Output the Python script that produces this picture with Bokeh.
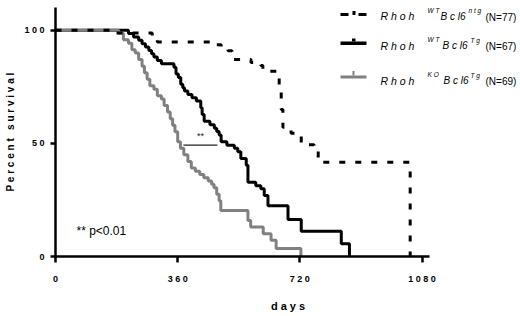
from bokeh.plotting import figure
from bokeh.models import Range1d, FixedTicker, Label, BoxAnnotation
from bokeh.embed import file_html
from bokeh.resources import INLINE

# ---- data ----
ntg_days = [0, 171, 285, 300, 468, 488, 508, 520, 576, 605, 611, 655, 659, 665, 670, 694, 724, 762, 774, 1045]
ntg_surv = [100, 98.7, 96.1, 94.8, 93.5, 92.2, 90.9, 87.0, 85.7, 84.4, 81.8, 80.5, 72.7, 64.9, 57.1, 54.5, 49.4, 48.1, 41.6, 0]

wt_days = [0, 215, 230, 245, 255, 265, 275, 283, 290, 300, 312, 349, 355, 362, 369, 375, 380, 390, 402, 415,
           428, 432, 438, 455, 468, 475, 482, 488, 505, 527, 537, 546, 562, 567, 590, 605, 615, 626, 685, 724,
           842, 866]
wt_surv = [100, 98.5, 97.0, 95.5, 94.0, 92.5, 91.0, 89.6, 88.1, 86.6, 85.1, 83.6, 80.6, 79.1, 76.1, 74.6, 73.1, 71.6, 70.1, 68.7,
           65.7, 62.7, 59.7, 58.2, 56.7, 55.2, 53.7, 50.7, 49.2, 47.8, 46.3, 43.3, 40.3, 32.8, 31.3, 29.9, 26.9, 22.4, 16.4, 11.2,
           5.6, 0]

ko_days = [0, 186, 200, 215, 225, 235, 245, 255, 262, 270, 278, 290, 300, 312, 320, 330, 338, 345, 352, 360,
           368, 378, 390, 400, 412, 425, 437, 450, 460, 467, 475, 482, 487, 567, 575, 612, 635, 650, 723]
ko_surv = [100, 98.6, 95.7, 94.2, 91.3, 89.9, 87.0, 84.1, 81.2, 78.3, 75.4, 73.9, 71.0, 69.6, 66.7, 63.8, 60.9, 58.0, 55.1, 50.7,
           47.8, 44.9, 42.0, 39.1, 37.7, 36.2, 34.8, 33.3, 31.9, 30.4, 27.5, 24.6, 20.3, 15.9, 13.0, 10.1, 7.2, 3.5, 0]

x_ticks = [0, 360, 720, 1080]
x_tick_labels = ["0", "3 6 0", "7 2 0", "1 0 8 0"]
y_ticks = [0, 50, 100]
y_tick_labels = ["0", "5 0", "1 0 0"]
x_title = "d a y s"
y_title = "P e r c e n t \u00a0\u00a0s u r v i v a l"

sig_x = [377, 477]
sig_y = 49.2
sig_text = "**"
p_text = "** p<0.01"

legend_rows = [
    ("R h o h", "W T", "B c l6", "n t g", "(N=77)"),
    ("R h o h", "W T", "B c l6", "T g", "(N=67)"),
    ("R h o h", "K O", "B c l6", "T g", "(N=69)"),
]

FONT = "Liberation Sans"
GRAY = "#808080"

# frame: left 55, top 7, right edge of canvas, bottom 256 ; ~0.339 px per day
p = figure(width=520, height=316, output_backend="svg", toolbar_location=None,
           x_range=Range1d(0, 1370), y_range=Range1d(0, 110),
           min_border_left=55, min_border_right=0, min_border_top=7, min_border_bottom=60)
p.outline_line_color = None
p.grid.visible = False
p.background_fill_color = "white"

# curves
p.step(wt_days, wt_surv, mode="after", line_width=3, line_color="black")
p.step(ko_days, ko_surv, mode="after", line_width=3, line_color=GRAY)
p.step(ntg_days, ntg_surv, mode="after", line_width=3, line_color="black", line_dash="6 10")

# significance bar
p.segment(x0=[sig_x[0]], y0=[sig_y], x1=[sig_x[1]], y1=[sig_y], line_width=1.2, line_color="#222222")
p.add_layout(Label(x=(sig_x[0] + sig_x[1]) / 2, y=sig_y, y_offset=9, text=sig_text, text_align="center",
                   text_baseline="middle", text_font=FONT, text_font_size="9px", text_color="#222222"))

# axes
xa = p.xaxis[0]
xa.ticker = FixedTicker(ticks=x_ticks)
xa.major_label_overrides = {t: l for t, l in zip(x_ticks, x_tick_labels)}
xa.bounds = (-18, 1102)
xa.axis_label = x_title
ya = p.yaxis[0]
ya.ticker = FixedTicker(ticks=y_ticks)
ya.major_label_overrides = {t: l for t, l in zip(y_ticks, y_tick_labels)}
ya.axis_label = y_title
for ax in (xa, ya):
    ax.axis_line_width = 2.5
    ax.axis_line_color = "black"
    ax.major_tick_line_width = 2.5
    ax.major_tick_line_color = "black"
    ax.major_tick_in = 0
    ax.minor_tick_line_color = None
    ax.major_label_text_font = FONT
    ax.major_label_text_font_style = "bold"
    ax.major_label_text_font_size = "9px"
    ax.major_label_text_color = "black"
    ax.axis_label_text_font = FONT
    ax.axis_label_text_font_style = "bold"
    ax.axis_label_text_color = "black"
xa.major_tick_out = 6
xa.major_label_standoff = 11
xa.axis_label_text_font_size = "11px"
xa.axis_label_standoff = 13
ya.major_tick_out = 5
ya.major_label_standoff = 6
ya.axis_label_text_font_size = "10px"
ya.axis_label_standoff = 5

# frame geometry in window pixels (for annotation placement)
FL, FB = 55, 256
def sx(wx):
    return wx - FL
def sy(wy):
    return FB - wy

# p-value note
p.add_layout(Label(x=sx(76), y=sy(230), x_units="screen", y_units="screen", text=p_text,
                   text_align="left", text_baseline="middle", text_font=FONT,
                   text_font_size="12px", text_color="black"))

# legend samples
def box(l, r, t, b, color):
    p.add_layout(BoxAnnotation(left=sx(l), right=sx(r), top=sy(t), bottom=sy(b),
                               left_units="screen", right_units="screen", top_units="screen", bottom_units="screen",
                               fill_color=color, fill_alpha=1.0, line_alpha=0))

box(340, 348, 12.5, 15.5, "black")
box(352, 355, 10.5, 14.5, "black")
box(358, 366, 12.5, 15.5, "black")
box(340, 366, 41, 44.5, "black")
box(351.5, 355, 38, 41, "black")
box(340, 366, 75, 78, GRAY)
box(352, 354, 70.5, 75, GRAY)

row_y = [15.5, 45, 80]
sup_y = [9.5, 39, 74]
bcl_x = [440, 442, 443]
sup2_x = [468, 470, 470]
for i, (rh, s1, bc, s2, n) in enumerate(legend_rows):
    for txt, wx, wy, size, style in [
        (rh, 380, row_y[i], "10.5px", "italic"),
        (s1, 427, sup_y[i], "6.5px", "italic"),
        (bc, bcl_x[i], row_y[i], "10px", "italic"),
        (s2, sup2_x[i], sup_y[i] + 0.5, "6.5px", "italic"),
        (n, 485, row_y[i] + 1, "10px", "normal"),
    ]:
        p.add_layout(Label(x=sx(wx), y=sy(wy), x_units="screen", y_units="screen", text=txt,
                           text_align="left", text_baseline="middle", text_font=FONT,
                           text_font_style=style, text_font_size=size, text_color="black"))

open("out.html", "w").write(file_html(p, INLINE))
